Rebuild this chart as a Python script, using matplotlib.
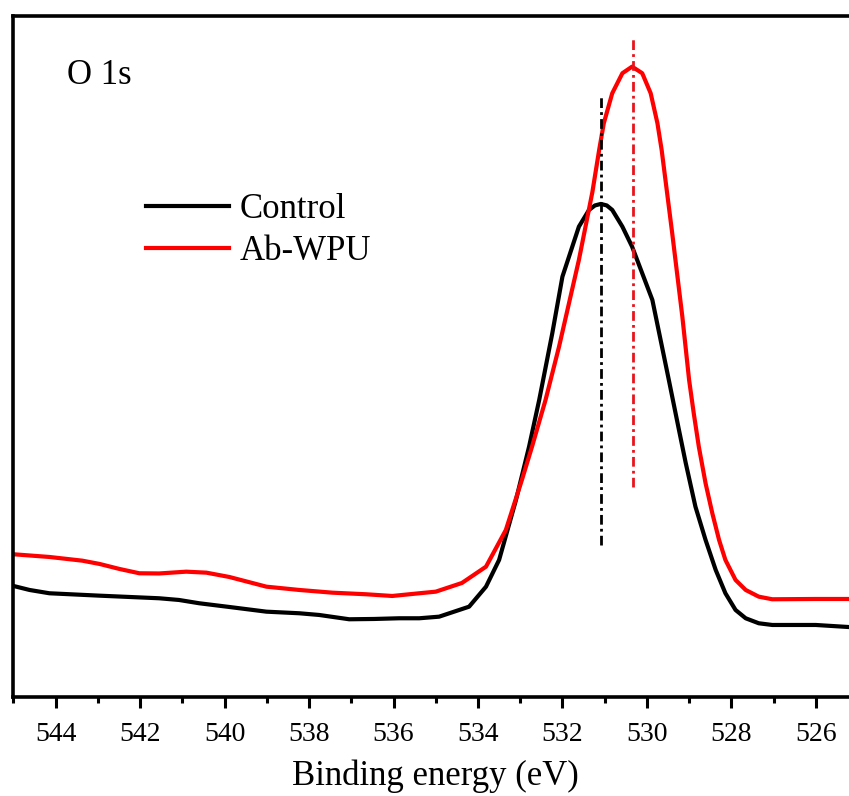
import numpy as np
import matplotlib.pyplot as plt
from matplotlib.ticker import MultipleLocator

plt.rcParams['font.family'] = ['Liberation Serif', 'DejaVu Serif']

# O 1s high-resolution XPS spectra (binding energy in eV, intensity in counts)
be_control = [545.00, 544.62, 544.15, 542.96, 541.55, 541.08, 540.60, 539.89,
              539.01, 538.23, 537.76, 537.05, 536.46, 535.87, 535.39, 534.92,
              534.21, 533.81, 533.50, 533.10, 532.79, 532.55, 532.24, 532.00,
              531.61, 531.37, 531.23, 531.09, 530.95, 530.82, 530.58, 530.35,
              529.87, 529.48, 529.24, 529.08, 528.85, 528.61, 528.37, 528.14,
              527.90, 527.66, 527.35, 527.03, 526.00, 525.24]
int_control = [11100, 10700, 10370, 10130, 9870, 9700, 9370, 9000,
               8530, 8370, 8200, 7770, 7800, 7870, 7870, 8030,
               9030, 11030, 13700, 19700, 25030, 29700, 36370, 42030,
               47030, 48700, 49150, 49300, 49150, 48700, 47030, 45030,
               39700, 31700, 26700, 23400, 19030, 15700, 12700, 10370,
               8700, 7870, 7370, 7200, 7200, 7000]

be_abwpu = [545.00, 544.15, 543.37, 542.96, 542.49, 542.02, 541.55, 540.91,
            540.43, 539.89, 539.01, 538.23, 537.45, 536.65, 536.03, 535.39,
            535.00, 534.38, 533.81, 533.34, 532.96, 532.72, 532.40, 532.08,
            531.61, 531.29, 531.13, 531.02, 530.82, 530.58, 530.35, 530.11,
            529.91, 529.75, 529.65, 529.40, 529.16, 529.00, 528.89, 528.77,
            528.61, 528.45, 528.29, 528.14, 527.90, 527.66, 527.35, 527.03,
            526.00, 525.24]
int_abwpu = [14270, 14000, 13630, 13300, 12800, 12370, 12350, 12530,
             12430, 12000, 11030, 10700, 10430, 10270, 10100, 10370,
             10530, 11400, 13030, 16700, 21700, 25030, 29700, 35030,
             43700, 50500, 54700, 57370, 60370, 62370, 63030, 62370,
             60370, 57370, 54700, 46370, 38030, 31700, 28370, 25030,
             21370, 18370, 15700, 13700, 11700, 10700, 10030, 9770,
             9800, 9800]

# peak-position markers: (energy, lower end, upper end)
peak_control = (531.09, 15200, 60200)
peak_abwpu = (530.33, 21000, 66000)

fig = plt.figure(figsize=(8.49, 7.96), dpi=100)
ax = fig.add_axes([0.0159, 0.1244, 0.9947, 0.8561])

ax.plot(be_control, int_control, color='black', lw=3, label='Control')
ax.plot(be_abwpu, int_abwpu, color='#ff0000', lw=3, label='Ab-WPU')

dashdot = (0, (3.5, 1.5, 1, 1.5))
ax.vlines(peak_control[0], peak_control[1], peak_control[2], color='black',
          lw=2, linestyles=dashdot)
ax.vlines(peak_abwpu[0], peak_abwpu[1], peak_abwpu[2], color='#e8141c',
          lw=2, linestyles=dashdot)

ax.set_xlim(545, 525)
ax.set_ylim(0, 68140)
ax.xaxis.set_major_locator(MultipleLocator(2))
ax.xaxis.set_minor_locator(MultipleLocator(1))
ax.set_yticks([])
ax.tick_params(axis='x', which='major', direction='out', length=8, width=2.2,
               labelsize=20, pad=10)
ax.tick_params(axis='x', which='minor', direction='out', length=4, width=2.2)
for sp in ax.spines.values():
    sp.set_linewidth(2.6)

ax.set_xlabel('Binding energy (eV)', fontsize=25, labelpad=9)
ax.text(0.063, 0.90, 'O 1s', transform=ax.transAxes, fontsize=25,
        ha='left', va='baseline')

ax.legend(loc='upper left', bbox_to_anchor=(0.157, 0.74), frameon=False,
          fontsize=25, handlelength=2.4, handletextpad=0.3,
          labelspacing=0.27, borderpad=0, borderaxespad=0)

fig.savefig('out.png', dpi=100)
